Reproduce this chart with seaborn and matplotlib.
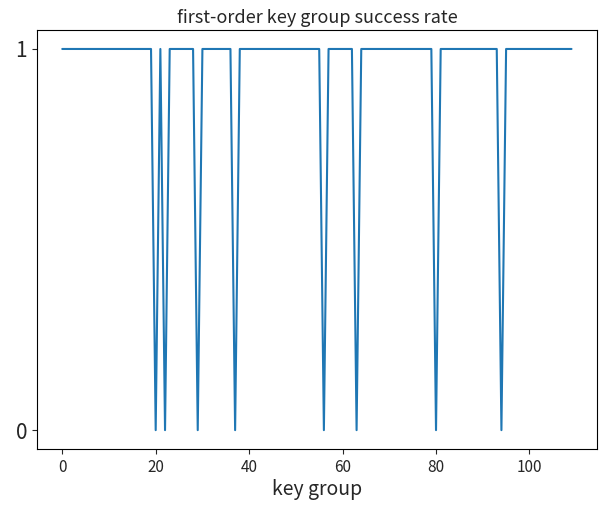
import matplotlib
matplotlib.use("Agg")
import matplotlib.pyplot as plt
import seaborn as sns
import numpy as np
import pandas as pd

n_groups = 110
fail_groups = [20, 22, 29, 37, 56, 63, 80, 94]
key_group = list(range(n_groups))
success = [0 if k in fail_groups else 1 for k in key_group]

sns.set_style("ticks")
plt.rcParams['font.family'] = ['Noto Sans CJK SC', 'DejaVu Sans']

df = pd.DataFrame({"key group": key_group, "success": success})
fig = plt.figure(figsize=(6.03, 5.07), dpi=100)
ax = fig.add_axes([0.061, 0.114, 0.929, 0.827])
sns.lineplot(data=df, x="key group", y="success", ax=ax, color="#1f77b4", linewidth=1.5)
ax.set_yticks([0, 1])
ax.set_yticklabels(["0", "1"], fontsize=15)
ax.tick_params(axis='x', labelsize=11)
ax.set_xlabel("key group", fontsize=14, labelpad=2)
ax.set_ylabel("")
ax.set_title("first-order key group success rate", fontsize=13, pad=5)
for s in ax.spines.values():
    s.set_color("black")
    s.set_linewidth(0.8)
fig.savefig("out.png", dpi=100)
